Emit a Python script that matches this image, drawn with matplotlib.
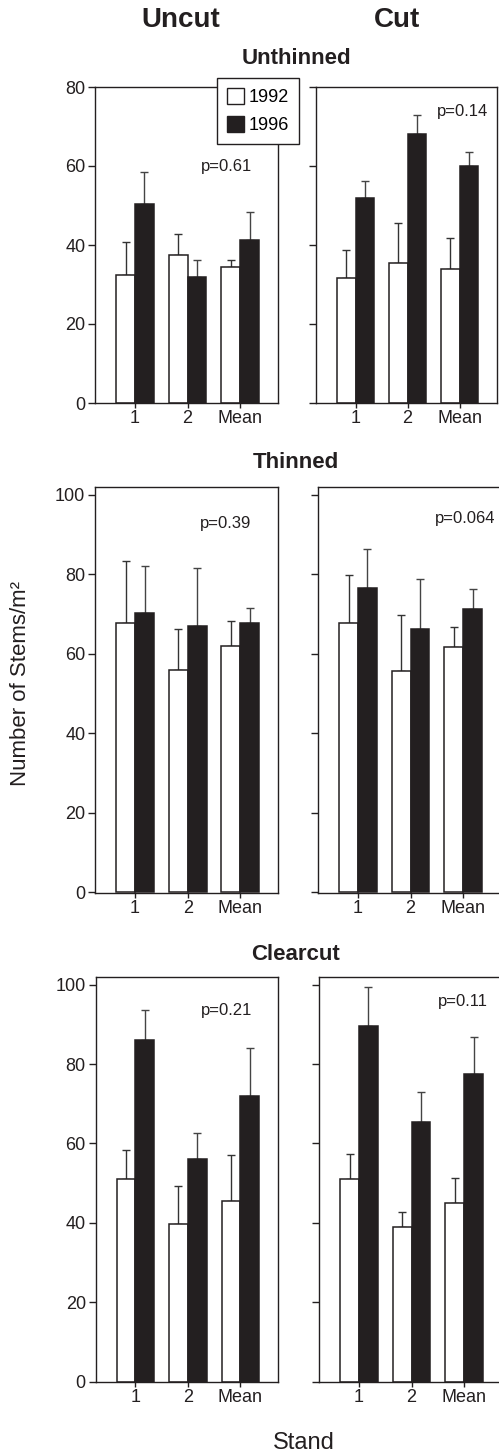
import matplotlib
matplotlib.use("Agg")
import matplotlib.pyplot as plt
from matplotlib.patches import Patch
import numpy as np

plt.rcParams['font.family'] = ['Liberation Sans', 'DejaVu Sans']

stands = ['1', '2', 'Mean']
years = ['1992', '1996']
columns = ['Uncut', 'Cut']
rows = ['Unthinned', 'Thinned', 'Clearcut']

# means and upper SE, per treatment
uncut_unthinned_92 = [32.5, 37.4, 34.4]
uncut_unthinned_92_se = [8.3, 5.3, 1.9]
uncut_unthinned_96 = [50.4, 32.0, 41.3]
uncut_unthinned_96_se = [8.0, 4.3, 7.0]
cut_unthinned_92 = [31.6, 35.5, 33.9]
cut_unthinned_92_se = [7.1, 10.1, 7.8]
cut_unthinned_96 = [52.0, 68.0, 59.9]
cut_unthinned_96_se = [4.1, 5.0, 3.7]

uncut_thinned_92 = [67.8, 55.9, 61.9]
uncut_thinned_92_se = [15.5, 10.4, 6.3]
uncut_thinned_96 = [70.1, 66.9, 67.8]
uncut_thinned_96_se = [12.0, 14.6, 3.6]
cut_thinned_92 = [67.8, 55.6, 61.7]
cut_thinned_92_se = [12.0, 14.1, 5.0]
cut_thinned_96 = [76.4, 66.1, 71.2]
cut_thinned_96_se = [9.8, 12.7, 5.1]

uncut_clearcut_92 = [51.1, 39.8, 45.5]
uncut_clearcut_92_se = [7.3, 9.6, 11.6]
uncut_clearcut_96 = [86.1, 56.0, 72.0]
uncut_clearcut_96_se = [7.5, 6.6, 12.1]
cut_clearcut_92 = [51.1, 39.0, 45.0]
cut_clearcut_92_se = [6.2, 3.7, 6.2]
cut_clearcut_96 = [89.7, 65.5, 77.6]
cut_clearcut_96_se = [9.8, 7.5, 9.2]

p_values = [['p=0.61', 'p=0.14'], ['p=0.39', 'p=0.064'], ['p=0.21', 'p=0.11']]

panels = [
    [(uncut_unthinned_92, uncut_unthinned_92_se, uncut_unthinned_96, uncut_unthinned_96_se),
     (cut_unthinned_92, cut_unthinned_92_se, cut_unthinned_96, cut_unthinned_96_se)],
    [(uncut_thinned_92, uncut_thinned_92_se, uncut_thinned_96, uncut_thinned_96_se),
     (cut_thinned_92, cut_thinned_92_se, cut_thinned_96, cut_thinned_96_se)],
    [(uncut_clearcut_92, uncut_clearcut_92_se, uncut_clearcut_96, uncut_clearcut_96_se),
     (cut_clearcut_92, cut_clearcut_92_se, cut_clearcut_96, cut_clearcut_96_se)],
]

# layout in pixels
W, H = 499, 1454
row_y = [(87, 403), (486.7, 893.3), (976.7, 1382.3)]
row_x = [[(95, 278), (316, 497)], [(95, 278.3), (318, 501)], [(95.5, 278.3), (319, 502)]]
ylims = [(0, 80), (-0.3, 102), (-0.15, 102)]
yticks = [np.arange(0, 81, 20), np.arange(0, 101, 20), np.arange(0, 101, 20)]
p_pos = [[(1.74, 60), (2.06, 73.7)], [(1.72, 92.7), (2.04, 94)], [(1.73, 93.6), (1.98, 95.8)]]
row_title_y = [59, 463, 954]

dark = '#231f20'
bw = 0.36

fig = plt.figure(figsize=(W / 100, H / 100), dpi=100)

x = np.arange(len(stands))
for r in range(3):
    y0, y1 = row_y[r]
    for c in range(2):
        x0, x1 = row_x[r][c]
        ax = fig.add_axes([x0 / W, 1 - y1 / H, (x1 - x0) / W, (y1 - y0) / H])
        v92, e92, v96, e96 = panels[r][c]
        ax.bar(x - bw, v92, bw, align='edge', color='white', edgecolor=dark, linewidth=1.1, zorder=2)
        ax.bar(x, v96, bw, align='edge', color=dark, edgecolor=dark, linewidth=1.1, zorder=2)
        ax.errorbar(x - bw / 2, v92, yerr=[np.zeros(3), e92], fmt='none', ecolor='#333333',
                    elinewidth=1, capsize=3, capthick=1, zorder=1)
        ax.errorbar(x + bw / 2, v96, yerr=[np.zeros(3), e96], fmt='none', ecolor='#444444',
                    elinewidth=1, capsize=3, capthick=1, zorder=1)
        ax.set_xlim(-0.76, 2.72)
        ax.set_ylim(*ylims[r])
        ax.set_yticks(yticks[r])
        ax.set_xticks(x)
        ax.set_xticklabels(stands)
        for s in ax.spines.values():
            s.set_color(dark)
            s.set_linewidth(1)
        ax.tick_params(axis='y', direction='out', length=5, width=1, pad=2,
                       labelsize=13, colors=dark, labelleft=(c == 0))
        ax.tick_params(axis='x', direction='out', length=3.5, width=1, pad=1.5,
                       labelsize=13, colors=dark)
        px, py = p_pos[r][c]
        ax.text(px, py, p_values[r][c], ha='center', va='center', fontsize=12, color=dark)
    fig.text(296 / W, 1 - row_title_y[r] / H, rows[r], ha='center', va='center',
             fontsize=16, fontweight='bold', color=dark)

fig.text(181 / W, 1 - 20 / H, columns[0], ha='center', va='center', fontsize=20,
         fontweight='bold', color=dark)
fig.text(397 / W, 1 - 20 / H, columns[1], ha='center', va='center', fontsize=20,
         fontweight='bold', color=dark)

fig.text(21 / W, 1 - 683 / H, 'Number of Stems/m²', rotation=90, ha='center', va='center',
         fontsize=16, color=dark)
fig.text(304 / W, 1 - 1443 / H, 'Stand', ha='center', va='center', fontsize=17, color=dark)

handles = [Patch(facecolor='white', edgecolor=dark, linewidth=1),
           Patch(facecolor=dark, edgecolor=dark, linewidth=1)]
leg = fig.legend(handles, years, loc='upper left', bbox_to_anchor=(216.7 / W, 1 - 78.3 / H),
                 borderaxespad=0, fontsize=13, handlelength=0.95, handleheight=0.95,
                 handletextpad=0.25, borderpad=0.55, labelspacing=0.55, fancybox=False,
                 framealpha=1, edgecolor=dark)
leg.get_frame().set_linewidth(1)

fig.savefig('out.png', dpi=100)
